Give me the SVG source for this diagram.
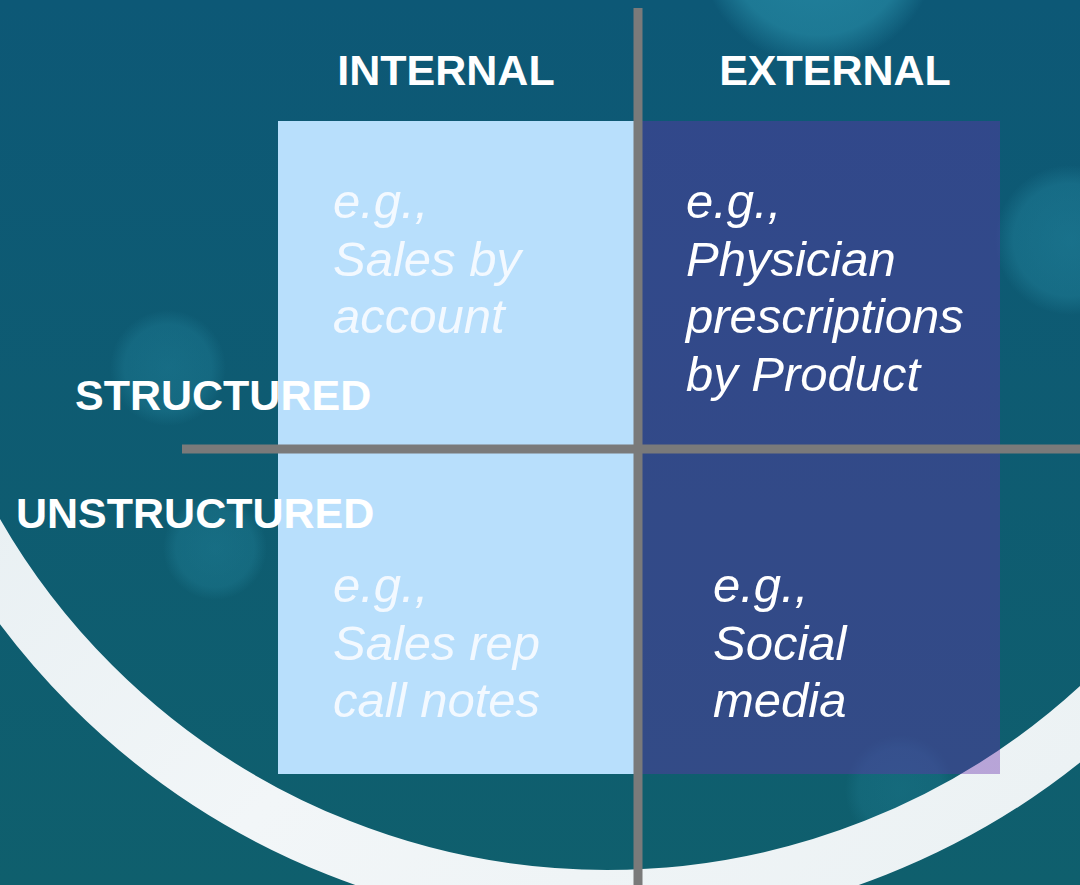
<svg xmlns="http://www.w3.org/2000/svg" width="1080" height="885" viewBox="0 0 1080 885">
  <defs>
    <linearGradient id="bg" x1="0" y1="0" x2="0" y2="1">
      <stop offset="0" stop-color="#0d5876"/>
      <stop offset="1" stop-color="#0f5f6d"/>
    </linearGradient>
    <linearGradient id="arcg" x1="0" y1="0" x2="1" y2="1">
      <stop offset="0" stop-color="#d6e4e9"/>
      <stop offset="0.6" stop-color="#f2f6f8"/>
      <stop offset="1" stop-color="#e9f0f2"/>
    </linearGradient>
    <radialGradient id="bokeh">
      <stop offset="0" stop-color="#2a93ad" stop-opacity="0.9"/>
      <stop offset="0.75" stop-color="#2a93ad" stop-opacity="0.7"/>
      <stop offset="1" stop-color="#2a93ad" stop-opacity="0"/>
    </radialGradient>
    <style>
      .head { font-family: "Liberation Sans", Arial, sans-serif; font-weight: bold; font-size: 43px; fill: #ffffff; }
      .ex { font-family: "Liberation Sans", Arial, sans-serif; font-style: italic; font-size: 49px; }
      .exl { fill: #f3f9ff; }
      .exd { fill: #ffffff; }
      .axis { stroke: #7a7a7a; stroke-width: 9; fill: none; }
    </style>
  </defs>

  <!-- background -->
  <rect x="0" y="0" width="1080" height="885" fill="url(#bg)"/>
  <circle cx="818" cy="-55" r="120" fill="url(#bokeh)" opacity="0.8"/>
  <circle cx="1070" cy="240" r="75" fill="url(#bokeh)" opacity="0.45"/>
  <circle cx="168" cy="368" r="58" fill="url(#bokeh)" opacity="0.35"/>
  <circle cx="215" cy="548" r="52" fill="url(#bokeh)" opacity="0.35"/>
  <circle cx="900" cy="790" r="55" fill="url(#bokeh)" opacity="0.25"/>
  <circle cx="607" cy="170" r="729" fill="none" stroke="url(#arcg)" stroke-width="58"/>

  <!-- quadrants -->
  <g id="q-internal-structured">
    <rect x="278" y="121" width="360" height="328" fill="#b8dffc"/>
    <text class="ex exl" x="333" y="218">e.g.,</text>
    <text class="ex exl" x="333" y="276">Sales by</text>
    <text class="ex exl" x="333" y="333">account</text>
  </g>
  <g id="q-internal-unstructured">
    <rect x="278" y="449" width="360" height="325" fill="#b8dffc"/>
    <text class="ex exl" x="333" y="602">e.g.,</text>
    <text class="ex exl" x="333" y="660">Sales rep</text>
    <text class="ex exl" x="333" y="717">call notes</text>
  </g>
  <g id="q-external-structured">
    <rect x="638" y="121" width="362" height="328" fill="#692fac" fill-opacity="0.4"/>
    <text class="ex exd" x="686" y="218">e.g.,</text>
    <text class="ex exd" x="686" y="276">Physician</text>
    <text class="ex exd" x="686" y="333">prescriptions</text>
    <text class="ex exd" x="686" y="391">by Product</text>
  </g>
  <g id="q-external-unstructured">
    <rect x="638" y="449" width="362" height="325" fill="#692fac" fill-opacity="0.4"/>
    <text class="ex exd" x="713" y="602">e.g.,</text>
    <text class="ex exd" x="713" y="660">Social</text>
    <text class="ex exd" x="713" y="717">media</text>
  </g>

  <!-- axes -->
  <g id="connectors">
    <line class="axis" x1="638" y1="8" x2="638" y2="885"/>
    <line class="axis" x1="182" y1="449" x2="1080" y2="449"/>
  </g>

  <!-- axis labels -->
  <g id="label-internal"><text class="head" x="446" y="85" text-anchor="middle">INTERNAL</text></g>
  <g id="label-external"><text class="head" x="835" y="85" text-anchor="middle">EXTERNAL</text></g>
  <g id="label-structured"><text class="head" x="75" y="410">STRUCTURED</text></g>
  <g id="label-unstructured"><text class="head" x="16" y="528">UNSTRUCTURED</text></g>
</svg>
